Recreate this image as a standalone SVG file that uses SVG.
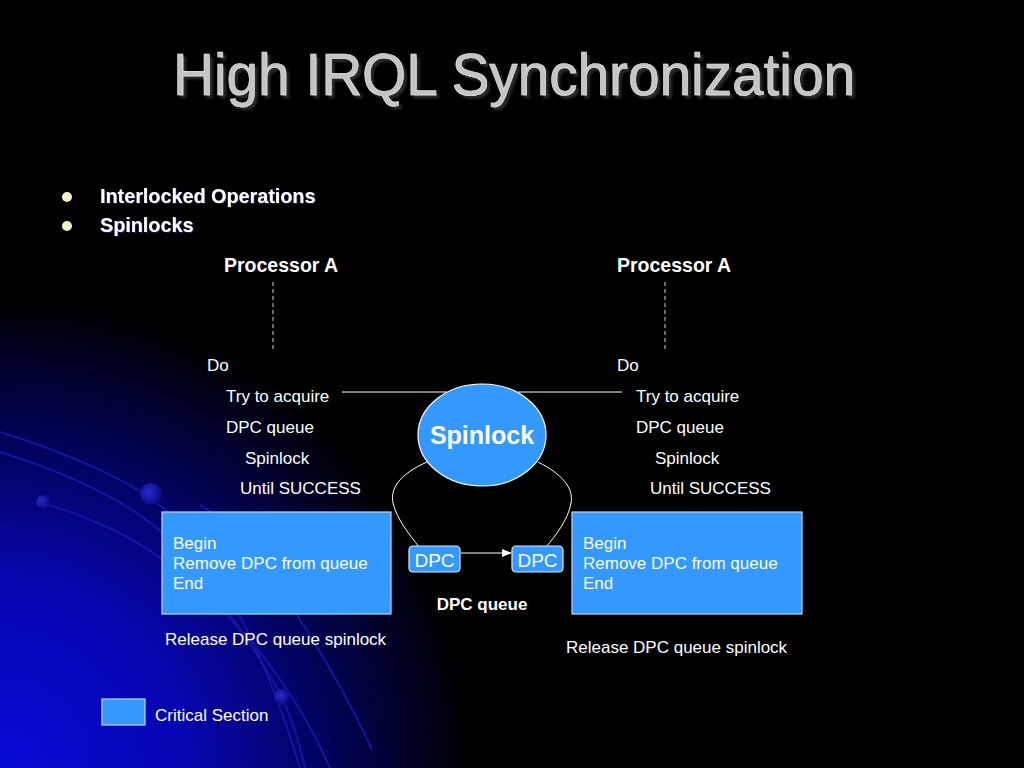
<svg xmlns="http://www.w3.org/2000/svg" width="1024" height="768" viewBox="0 0 1024 768">
<defs>
<radialGradient id="bg" cx="0" cy="768" r="470" gradientUnits="userSpaceOnUse">
<stop offset="0" stop-color="#0a0ad8"/>
<stop offset="0.4" stop-color="#0606b0"/>
<stop offset="0.75" stop-color="#02024a"/>
<stop offset="1" stop-color="#000000"/>
</radialGradient>
<radialGradient id="dot" cx="0.4" cy="0.4" r="0.6">
<stop offset="0" stop-color="#2a2ad0"/>
<stop offset="1" stop-color="#0a0a80"/>
</radialGradient>
<filter id="tshadow" x="-5%" y="-20%" width="110%" height="140%">
<feDropShadow dx="3" dy="3" stdDeviation="0.8" flood-color="#2a2a2a" flood-opacity="1"/>
</filter>
<filter id="bshadow" x="-5%" y="-20%" width="110%" height="140%">
<feDropShadow dx="1" dy="1" stdDeviation="0.5" flood-color="#1a1a60" flood-opacity="1"/>
</filter>
<marker id="arr" viewBox="0 0 10 10" refX="9" refY="5" markerWidth="10" markerHeight="10" orient="auto" markerUnits="userSpaceOnUse">
<path d="M0,1 L10,5 L0,9 z" fill="#ffffff"/>
</marker>
<style>
.t{font-family:"Liberation Sans",Arial,sans-serif;fill:#ffffff;font-size:17px}
.b{font-weight:bold}
.box{fill:#3399ff;stroke:#b8d8ff;stroke-width:1.2}
.dpc{fill:#3399ff;stroke:#d8ecff;stroke-width:1.2}
.deco{fill:none;stroke:#1818a8;stroke-width:2;opacity:0.85}
.dash{stroke:#d0d0d0;stroke-width:1;stroke-dasharray:4,3}
.conn{fill:none;stroke:#ffffff;stroke-width:1}
</style>
</defs>
<rect x="0" y="0" width="1024" height="768" fill="#000000"/>
<rect x="0" y="0" width="1024" height="768" fill="url(#bg)"/>
<g id="decoration">
<path class="deco" d="M0,432 Q120,470 168,512 Q250,600 300,768"/>
<path class="deco" d="M0,452 Q120,490 170,540 Q240,620 282,697 Q298,735 305,768"/>
<path class="deco" d="M40,502 Q130,530 170,566 Q215,600 250,640 Q300,700 330,768"/>
<path class="deco" d="M200,505 Q260,540 297,615 Q345,690 372,750"/>
<circle cx="151" cy="494" r="11" fill="url(#dot)"/>
<circle cx="43" cy="502" r="7" fill="url(#dot)"/>
<circle cx="282" cy="697" r="8" fill="url(#dot)"/>
</g>
<g id="title">
<text x="173" y="95" font-family="Liberation Sans,Arial,sans-serif" font-size="60" fill="#c4c4c4" stroke="#e8e8e8" stroke-width="0.6" textLength="682" lengthAdjust="spacingAndGlyphs" filter="url(#tshadow)">High IRQL Synchronization</text>
</g>
<g id="bullets">
<circle cx="67" cy="197" r="5" fill="#f2f2c8"/>
<circle cx="67" cy="226" r="5" fill="#f2f2c8"/>
<text class="t b" x="100" y="203" style="font-size:19.8px" filter="url(#bshadow)">Interlocked Operations</text>
<text class="t b" x="100" y="232" style="font-size:19.8px" filter="url(#bshadow)">Spinlocks</text>
</g>
<g id="connectors">
<line class="dash" x1="273" y1="282" x2="273" y2="350"/>
<line class="dash" x1="665" y1="282" x2="665" y2="350"/>
<line class="conn" x1="342" y1="392" x2="447" y2="392"/>
<line class="conn" x1="518" y1="392" x2="622" y2="392"/>
<path class="conn" d="M427,462 C400,474 390,488 393,503 C397,520 410,535 419,547"/>
<path class="conn" d="M538,462 C562,474 574,488 571,503 C568,520 556,535 546,547"/>
<line class="conn" x1="461" y1="553" x2="511" y2="553" marker-end="url(#arr)"/>
</g>
<g id="processorA-left">
<text class="t b" x="224" y="272" style="font-size:19.5px">Processor A</text>
<text class="t" x="207" y="371">Do</text>
<text class="t" x="226" y="402">Try to acquire</text>
<text class="t" x="226" y="433">DPC queue</text>
<text class="t" x="245" y="464">Spinlock</text>
<text class="t" x="240" y="494">Until SUCCESS</text>
</g>
<g id="processorA-right">
<text class="t b" x="617" y="272" style="font-size:19.5px">Processor A</text>
<text class="t" x="617" y="371">Do</text>
<text class="t" x="636" y="402">Try to acquire</text>
<text class="t" x="636" y="433">DPC queue</text>
<text class="t" x="655" y="464">Spinlock</text>
<text class="t" x="650" y="494">Until SUCCESS</text>
</g>
<g id="spinlock">
<ellipse cx="482" cy="435" rx="64" ry="51" fill="#3399ff" stroke="#ffffff" stroke-width="1.2"/>
<text class="t b" x="482" y="444" text-anchor="middle" style="font-size:25px">Spinlock</text>
</g>
<g id="dpc-left">
<rect class="dpc" x="409" y="546" width="51" height="26" rx="4"/>
<text class="t" x="434.5" y="567" text-anchor="middle" style="font-size:19px">DPC</text>
</g>
<g id="dpc-right">
<rect class="dpc" x="512" y="546" width="51" height="26" rx="4"/>
<text class="t" x="537.5" y="567" text-anchor="middle" style="font-size:19px">DPC</text>
</g>
<g id="dpc-queue-label">
<text class="t b" x="482" y="610" text-anchor="middle">DPC queue</text>
</g>
<g id="critical-left">
<rect class="box" x="162" y="512" width="229" height="102"/>
<text class="t" x="173" y="549">Begin</text>
<text class="t" x="173" y="569">Remove DPC from queue</text>
<text class="t" x="173" y="589">End</text>
</g>
<g id="critical-right">
<rect class="box" x="572" y="512" width="230" height="102"/>
<text class="t" x="583" y="549">Begin</text>
<text class="t" x="583" y="569">Remove DPC from queue</text>
<text class="t" x="583" y="589">End</text>
</g>
<g id="release-left">
<text class="t" x="165" y="645">Release DPC queue spinlock</text>
</g>
<g id="release-right">
<text class="t" x="566" y="653">Release DPC queue spinlock</text>
</g>
<g id="legend">
<rect class="box" x="102" y="699" width="43" height="26"/>
<text class="t" x="155" y="721">Critical Section</text>
</g>
</svg>
